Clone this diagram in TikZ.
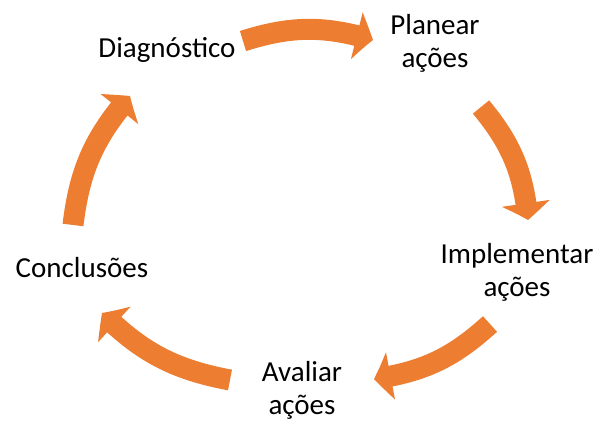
\documentclass[tikz,border=0pt]{standalone}
\usepackage{fontspec}
\setmainfont{Carlito}
\usetikzlibrary{arrows.meta,bending}
\definecolor{cycleorange}{RGB}{237,125,49}
\tikzset{
  steptext/.style={align=center, inner sep=0pt, font=\fontsize{29}{33}\selectfont},
  cyclearrow/.style={cycleorange, line width=21pt,
    -{Triangle[width=47pt,length=17pt,bend]}}
}

\begin{document}
\begin{tikzpicture}[x=1pt,y=1pt]
    \useasboundingbox (0,0) rectangle (595,423);
    % steps of the cycle
    \node[steptext] (diag)  at (167,373) {Diagnóstico};
    \node[steptext] (plan)  at (435,380) {Planear\\ações};
    \node[steptext] (impl)  at (517,151) {Implementar\\ações};
    \node[steptext] (aval)  at (302,33)  {Avaliar\\ações};
    \node[steptext] (concl) at (82,155)  {Conclusões};

    % arrow ends
    \coordinate (a1) at (243,382); \coordinate (b1) at (373,383);
    \coordinate (a2) at (481,316); \coordinate (b2) at (528,203);
    \coordinate (a3) at (490,99);  \coordinate (b3) at (374,44);
    \coordinate (a4) at (230,43);  \coordinate (b4) at (102,110);
    \coordinate (a5) at (73,198);  \coordinate (b5) at (130,327);

    % curved arrows
    \foreach \i in {1,...,5}
      \draw[cyclearrow] (a\i) to[bend left=17] (b\i);
\end{tikzpicture}
\end{document}
